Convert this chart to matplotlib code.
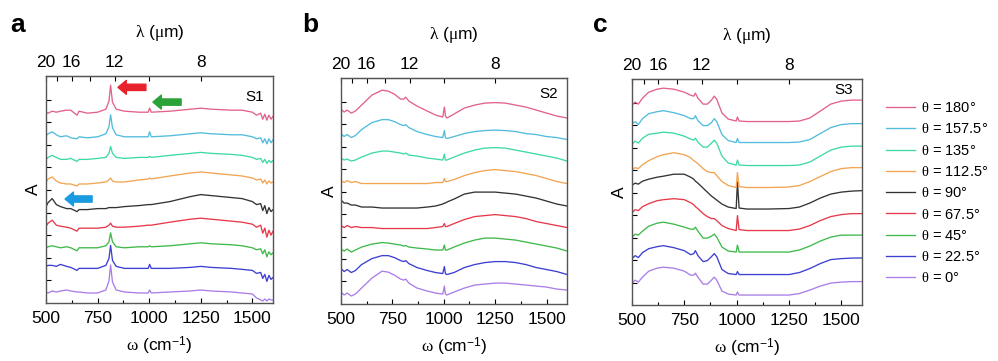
import numpy as np
import matplotlib
matplotlib.use('Agg')
import matplotlib.pyplot as plt
from matplotlib.ticker import MultipleLocator

plt.rcParams['font.family'] = ['Liberation Sans', 'DejaVu Sans']
plt.rcParams['mathtext.fontset'] = 'custom'
plt.rcParams['mathtext.rm'] = 'Liberation Sans'
plt.rcParams['mathtext.it'] = 'Liberation Serif'
plt.rcParams['mathtext.bf'] = 'Liberation Sans:bold'

# polarisation angles, bottom trace first
ANGLES = [0, 22.5, 45, 67.5, 90, 112.5, 135, 157.5, 180]
COLORS = ['#a97ee6', '#3d3fd2', '#3fb94a', '#e6394a', '#333333',
          '#f2a552', '#3fd9a6', '#52bcdc', '#e2628a']

# wavenumbers (cm-1) sampled for each sample
X_S1 = [500, 510, 530, 550, 570, 600, 620, 650, 660, 700, 750, 790, 805, 813, 822,
        840, 880, 950, 995, 1002, 1010, 1100, 1200, 1250, 1300, 1400, 1450, 1500,
        1520, 1540, 1550, 1560, 1570, 1580, 1590, 1600]
X_S2 = [500, 515, 530, 550, 570, 600, 650, 700, 730, 760, 790, 805, 815, 830, 870,
        920, 960, 995, 1003, 1008, 1015, 1050, 1100, 1150, 1200, 1250, 1300, 1350,
        1400, 1450, 1500, 1550, 1600]
X_S3 = [500, 515, 530, 550, 580, 620, 650, 700, 750, 780, 795, 803, 815, 840, 860,
        880, 893, 905, 930, 960, 998, 1004, 1012, 1050, 1150, 1250, 1300, 1350,
        1400, 1450, 1500, 1550, 1600]

# absorbance (a.u., before vertical offset), one row per angle in ANGLES order
A_S1 = [
    [1, 0, 2, 1, 2, 3, 2, 1, 1, 0, 0, 3, 12, 28, 11, 3, 1, 0, 0, 3, 0, 1, 2, 3, 2, 1, 0, -1, -5, -7, -8, -6, -8, -6, -7, -7],
    [4, 5, 5, 4, 6, 4, 3, 0, 2, 2, 2, 5, 12, 25, 10, 4, 2, 2, 2, 6, 2, 2, 3, 4, 3, 2, 1, 0, -3, -2, -8, -4, -11, -5, -9, -7],
    [0, 1, 2, 1, 0, 1, 0, -3, 0, 0, 0, 2, 6, 15, 6, 1, 0, 1, 1, 2, 1, 2, 4, 5, 4, 3, 2, 0, -2, -1, -6, -2, -9, -4, -7, -5],
    [-1, 2, 5, 0, -1, -2, -3, -6, -3, -3, -3, -2, 0, 2, -1, -2, -2, -1, 0, 0, 0, 3, 6, 7, 6, 4, 3, 1, -2, 0, -8, -3, -12, -5, -10, -6],
    [-4, 0, 4, -2, -4, -6, -6, -9, -7, -7, -6, -6, -5, -5, -5, -5, -4, -3, -2, -2, -2, 1, 6, 8, 7, 5, 4, 1, -2, -1, -8, -3, -11, -5, -9, -7],
    [-2, 1, 3, -1, -3, -4, -4, -6, -4, -4, -3, -2, 0, 2, -1, -2, -2, 0, 1, 2, 1, 4, 7, 8, 7, 5, 4, 2, 0, 1, -3, 0, -4, -1, -3, -2],
    [-2, 0, 2, 0, -2, -2, -1, -4, -2, -2, -1, 0, 4, 11, 4, 0, -1, 0, 0, 1, 0, 2, 4, 5, 4, 3, 2, 0, -2, -1, -5, -2, -6, -3, -5, -3],
    [-1, 1, 3, 0, -2, -1, -3, -4, -2, -3, -2, 1, 8, 20, 7, 0, -2, -2, -2, 3, -2, -1, 1, 2, 1, 0, 0, -2, -4, -3, -8, -4, -9, -4, -8, -5],
    [0, -1, 1, 0, 1, 2, 2, -3, 1, -1, 0, 3, 11, 27, 10, 3, 1, 0, 0, 4, 0, 1, 3, 4, 3, 2, 2, 0, -3, -1, -7, -2, -8, -3, -7, -4],
]
A_S2 = [
    [2, -1, 1, -2, 0, 6, 16, 23, 22, 19, 15, 14, 15, 11, 6, 3, 1, 0, 8, 0, -1, 2, 6, 9, 10, 11, 11, 10, 9, 8, 7, 5, 4],
    [3, 0, 2, -1, 1, 7, 13, 16, 16, 14, 11, 10, 11, 8, 4, 1, -1, -2, 5, -2, -3, -1, 4, 7, 9, 10, 10, 9, 7, 4, 2, 0, -3],
    [0, -2, 0, -3, -1, 2, 5, 6.5, 6, 5, 4, 3, 3.5, 2, 1, 0, -1, -1, 4, -1, -1, 2, 6, 9, 11, 11, 10, 9, 7, 5, 3, 1, -2],
    [1, -1, 1, -1, 0, -1, -1, -2, -2, -2, -2, -2, -2, -2, -2, -2, -1, 0, 3, 0, 0, 3, 7, 10, 11, 12, 11, 10, 8, 5, 3, 1, -1],
    [4, 1, 1, -1, -1, -3, -3, -4, -4, -4, -4, -4, -4, -4, -4, -3, -2, 0, 1, 1, 2, 5, 10, 12, 12, 12, 11, 10, 8, 6, 3, 0, -2],
    [1, -1, 1, -1, 0, -2, -2, -2, -2, -2, -2, -2, -2, -2, -2, -2, -1, -1, 3, 0, 0, 2, 6, 9, 11, 12, 11, 10, 8, 6, 3, 0, -2],
    [1, -1, 0, -2, -1, 2, 6, 8, 8, 7, 6, 5, 6, 4, 3, 1, 0, -1, 5, -1, -1, 2, 6, 9, 11, 11.5, 11, 9, 7, 5, 3, 1, -2],
    [3, 0, 2, -1, 1, 7, 14, 17, 17, 15, 12, 11, 12, 9, 5, 2, 0, -1, 6, -1, -2, 0, 3, 5, 6, 6.5, 6, 5, 3, 2, 0, -1, -3],
    [5, 2, 4, 1, 3, 9, 19, 24, 23, 20, 15, 15, 17, 13, 8, 3, -1, -3, 7, -2, -4, 0, 6, 9, 11, 11.5, 11, 9, 7, 4, 1, -2, -4],
]
A_S3 = [
    [12, 15, 13, 18, 24, 27, 28, 27, 24, 20, 20, 22, 18, 11, 11, 15, 18, 15, 4, 1, 0, 3, 0, 0, 0, 0, 1.5, 5, 9, 12, 13, 13.5, 13.5],
    [14, 17, 15, 20, 24, 26, 27, 25, 22, 18, 19, 22, 17, 11, 12, 16, 19, 16, 3, -1, -2, 1, -2, -2, -2, -2, 0, 4, 9, 13, 14, 14.5, 14.7],
    [13, 16, 15, 19, 24, 27, 28, 26, 23, 21, 21, 23, 19, 12, 12, 14, 16, 13, 3, -1, -2, 5, -2, -2, -2, -2, 0, 4, 9, 13, 15, 15, 15],
    [15, 18, 17, 21, 24, 27, 28, 29, 28, 25, 23, 21, 19, 14, 11, 9, 9, 7, 2, -1, -3, 12, -2, -3, -3, -3, -1.5, 2, 7, 11, 13, 14, 14],
    [20, 22, 21, 24, 26, 28, 29, 31, 31, 28, 26, 24, 22, 17, 13, 9, 7, 5, 1, -2, -3.5, 23, -3, -4, -4, -3.5, -2, 2, 7, 11, 13, 14, 14.5],
    [13, 15, 14, 18, 22, 26, 28, 30, 28, 25, 22, 21, 19, 14, 11, 10, 10, 7, 1, -3, -5, 10, -4, -5, -5, -4.5, -3, 1, 6, 11, 14, 15, 15],
    [16, 19, 17, 22, 26, 27, 28, 27, 24, 21, 20, 22, 18, 13, 13, 17, 20, 17, 4, -3, -5, 0, -5, -5.5, -5.5, -5.5, -5, -2, 4, 10, 13, 14, 14],
    [14, 16, 13, 19, 24, 26, 27, 25, 22, 19, 19, 22, 17, 12, 12, 15, 19, 16, 3, -3, -5, -1, -5, -5, -5, -5, -4.5, -2, 4, 10, 13, 14, 14],
    [10, 13, 11, 17, 23, 26, 27, 26, 23, 20, 19, 22, 17, 11, 11, 15, 19, 16, 2, -4, -6, -2, -6, -6.5, -6.5, -6.5, -6, -3, 4, 11, 14, 15, 15],
]

SPACING = 22.6   # vertical offset between traces
BASE = 10
FS = 12.5


def to_lambda(x):
    x = np.asarray(x, dtype=float)
    with np.errstate(divide='ignore'):
        return 1e4 / x


def draw_panel(ax, x, rows, tag, tag_y):
    lines = []
    for k, (row, c, ang) in enumerate(zip(rows, COLORS, ANGLES)):
        y = np.asarray(row, dtype=float) + BASE + SPACING * k
        ln, = ax.plot(x, y, color=c, lw=0.95, label=rf'$\theta$ = {ang:g}°')
        lines.append(ln)
    ax.set_xlim(500, 1600)
    ax.set_ylim(0, 227)
    ax.set_xticks([500, 750, 1000, 1250, 1500])
    ax.xaxis.set_minor_locator(MultipleLocator(125))
    ax.set_yticks(SPACING * np.arange(1, 10))
    ax.set_yticklabels([])
    ax.tick_params(which='major', direction='in', length=3.5, width=0.8,
                   top=False, right=False, labelsize=FS, pad=6)
    ax.tick_params(which='minor', direction='in', length=2.5, width=0.8, top=False)
    for s in ax.spines.values():
        s.set_color('#555555')
        s.set_linewidth(1.0)
    ax.set_xlabel(r'$\omega$ (cm$^{-1}$)', fontsize=FS, labelpad=6)
    ax.set_ylabel('A', fontsize=FS)
    ax.yaxis.set_label_coords(-0.02, 0.5)

    top = ax.secondary_xaxis('top', functions=(to_lambda, to_lambda))
    top.set_xticks([20, 18, 16, 14, 12, 10, 8])
    top.set_xticklabels(['20', '', '16', '', '12', '', '8'])
    top.tick_params(direction='in', length=3.5, width=0.8, labelsize=FS, pad=4)
    top.spines['top'].set_color('#555555')
    top.set_xlabel(r'$\lambda$ ($\mu$m)', fontsize=FS, labelpad=13)

    ax.text(0.96, tag_y, tag, transform=ax.transAxes, ha='right', va='center', fontsize=11)
    return lines


fig = plt.figure(figsize=(9.98, 3.61), dpi=100)
ax_a = fig.add_axes([0.0461, 0.1607, 0.2275, 0.6288])
ax_b = fig.add_axes([0.3417, 0.1579, 0.2265, 0.6260])
ax_c = fig.add_axes([0.6333, 0.1551, 0.2305, 0.6260])

draw_panel(ax_a, X_S1, A_S1, 'S1', 0.907)
draw_panel(ax_b, X_S2, A_S2, 'S2', 0.93)
lines = draw_panel(ax_c, X_S3, A_S3, 'S3', 0.95)

# block arrows in panel a
for (x0, x1, yy, col) in [(0.44, 0.317, 0.95, '#e8222c'),
                          (0.595, 0.471, 0.885, '#2aa238'),
                          (0.203, 0.084, 0.458, '#1a9ae0')]:
    ax_a.annotate('', xy=(x1, yy), xytext=(x0, yy), xycoords='axes fraction',
                  arrowprops=dict(arrowstyle='simple,head_length=0.6,head_width=1.0,tail_width=0.45',
                                  color=col, mutation_scale=10, shrinkA=0, shrinkB=0))

for lab, xx in [('a', 0.010), ('b', 0.3026), ('c', 0.594)]:
    fig.text(xx, 0.912, lab, fontsize=19, fontweight='bold', va='baseline', ha='left')

fig.legend(lines[::-1], [l.get_label() for l in lines[::-1]], loc='upper left',
           bbox_to_anchor=(0.888, 0.72), frameon=False, fontsize=10.5,
           handlelength=2.0, handletextpad=0.4, labelspacing=0.5,
           borderpad=0, borderaxespad=0)

fig.savefig('out.png', dpi=100)
